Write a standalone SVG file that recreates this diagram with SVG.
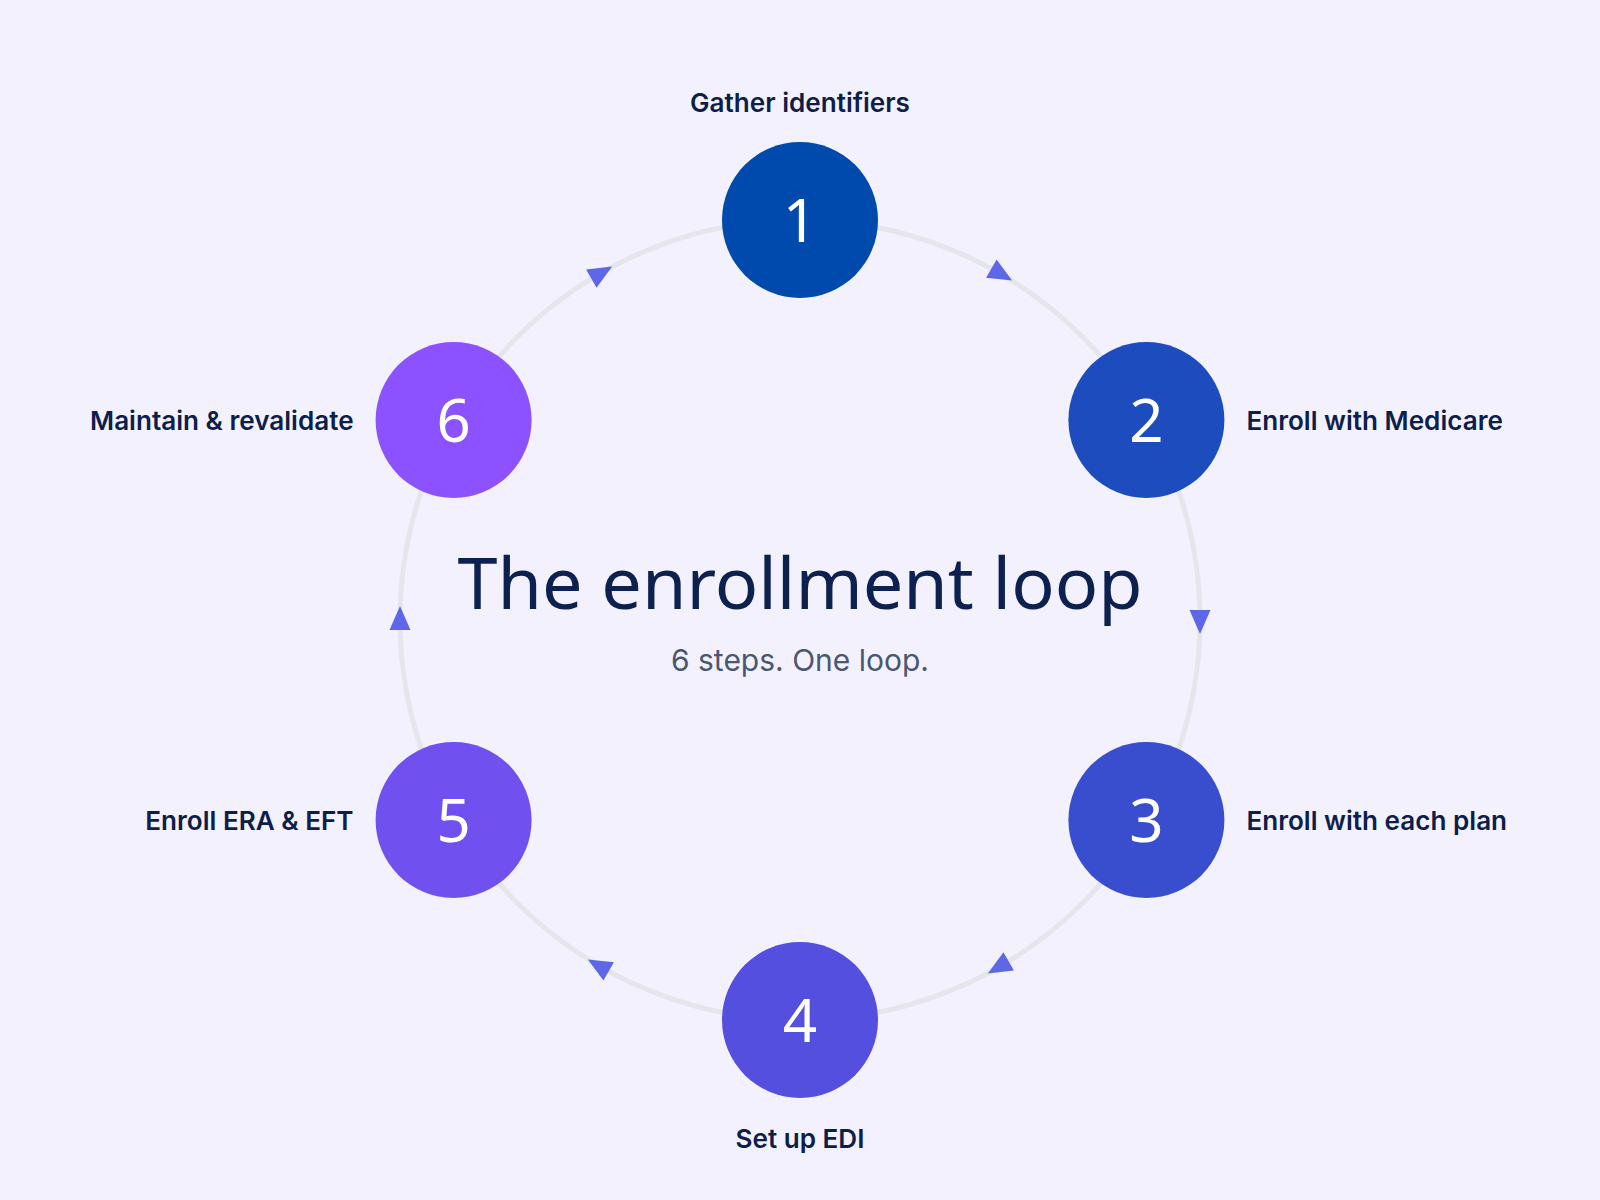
<svg xmlns="http://www.w3.org/2000/svg" width="1600" height="1200" viewBox="0 0 1600 1200">
  <style>
    .bg { fill: #F3F1FD; }
    .ring { fill: none; stroke: #E4E6EC; stroke-width: 5; }
    .arrow { fill: #5D67E7; }
    .num { font-family: "Noto Sans", "DejaVu Sans", sans-serif; font-size: 60px; font-weight: 400; fill: #FFFFFF; text-anchor: middle; }
    .label { font-family: Inter, "Liberation Sans", sans-serif; font-size: 26.1px; font-weight: 600; fill: #0E1E4A; }
    .title { font-family: "Noto Sans", "DejaVu Sans", sans-serif; font-size: 72px; font-weight: 400; fill: #0D2150; text-anchor: middle; }
    .sub { font-family: Inter, "Liberation Sans", sans-serif; font-size: 30px; font-weight: 400; fill: #4A5773; text-anchor: middle; }
  </style>
  <defs>
    <path id="tri" d="M14 0 L-10 -10.5 L-10 10.5 Z"/>
  </defs>
  <rect class="bg" x="0" y="0" width="1600" height="1200"/>

  <g id="connectors">
    <circle class="ring" cx="800" cy="620" r="400"/>
    <use href="#tri" class="arrow" transform="translate(1000 273.59) rotate(30)"/>
    <use href="#tri" class="arrow" transform="translate(1200 620) rotate(90)"/>
    <use href="#tri" class="arrow" transform="translate(1000 966.41) rotate(150)"/>
    <use href="#tri" class="arrow" transform="translate(600 966.41) rotate(210)"/>
    <use href="#tri" class="arrow" transform="translate(400 620) rotate(270)"/>
    <use href="#tri" class="arrow" transform="translate(600 273.59) rotate(330)"/>
  </g>

  <g id="center-text">
    <text class="title" x="800" y="609">The enrollment loop</text>
    <text class="sub" x="800" y="671">6 steps. One loop.</text>
  </g>

  <g id="node1">
    <circle cx="800" cy="220" r="78" fill="#004AAD"/>
    <text class="num" x="800" y="242">1</text>
    <text class="label" x="800" y="112" text-anchor="middle">Gather identifiers</text>
  </g>
  <g id="node2">
    <circle cx="1146.4" cy="420" r="78" fill="#1C4CBE"/>
    <text class="num" x="1146.4" y="442">2</text>
    <text class="label" x="1246.4" y="430">Enroll with Medicare</text>
  </g>
  <g id="node3">
    <circle cx="1146.4" cy="820" r="78" fill="#384ECE"/>
    <text class="num" x="1146.4" y="842">3</text>
    <text class="label" x="1246.4" y="830">Enroll with each plan</text>
  </g>
  <g id="node4">
    <circle cx="800" cy="1020" r="78" fill="#544FDF"/>
    <text class="num" x="800" y="1042">4</text>
    <text class="label" x="800" y="1148" text-anchor="middle">Set up EDI</text>
  </g>
  <g id="node5">
    <circle cx="453.6" cy="820" r="78" fill="#7051EF"/>
    <text class="num" x="453.6" y="842">5</text>
    <text class="label" x="353.6" y="830" text-anchor="end">Enroll ERA &amp; EFT</text>
  </g>
  <g id="node6">
    <circle cx="453.6" cy="420" r="78" fill="#8C52FF"/>
    <text class="num" x="453.6" y="442">6</text>
    <text class="label" x="353.6" y="430" text-anchor="end">Maintain &amp; revalidate</text>
  </g>
</svg>
